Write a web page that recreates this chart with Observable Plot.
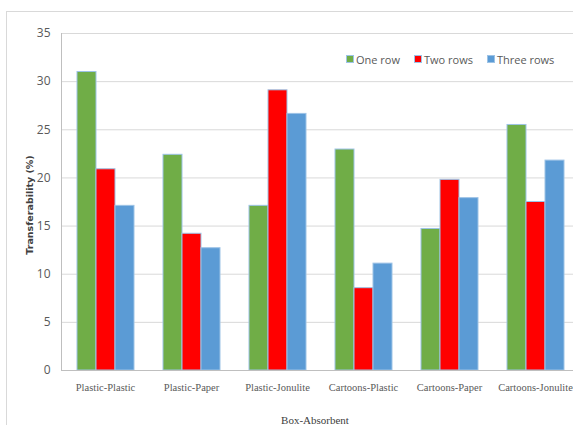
<!DOCTYPE html>
<html>
<head>
<meta charset="utf-8">
<script src="https://cdn.jsdelivr.net/npm/d3@7"></script>
<script src="https://cdn.jsdelivr.net/npm/@observablehq/plot@0.6"></script>
<style>
  body { margin: 0; background: #fff; }
  #wrap { position: relative; width: 573px; height: 425px; overflow: hidden; background: #fff; }
  #border { position: absolute; left: 6px; top: 11px; width: 600px; height: 500px; border-left: 1px solid #d9d9d9; border-top: 1px solid #d9d9d9; }
  .layer { position: absolute; left: 0; top: 0; }
  .ylab { position: absolute; left: 29px; top: 205px; transform: translate(-50%, -50%) rotate(-90deg); font: bold 9.5px "DejaVu Sans", sans-serif; color: #404040; white-space: nowrap; }
  .xlab { position: absolute; left: 315px; top: 420px; transform: translate(-50%, -50%); font: 11px "Liberation Serif", serif; color: #404040; white-space: nowrap; }
  #legend { position: absolute; left: 346px; top: 51px; font: 11px "Open Sans", sans-serif; color: #595959; white-space: nowrap; }
  #legend span.item { display: inline-flex; align-items: center; margin-right: 14px; }
  #legend span.sw { display: inline-block; width: 6px; height: 6px; border: 1px solid #9dc3e6; margin-right: 2px; }
  g[aria-label="y-axis tick label"] text { fill: #595959; }
  g[aria-label="fx-axis tick label"] text { fill: #595959; }
</style>
</head>
<body>
<div id="wrap">
  <div id="border"></div>
  <div id="back" class="layer"></div>
  <div id="front" class="layer"></div>
  <div class="ylab">Transferability (%)</div>
  <div class="xlab">Box-Absorbent</div>
  <div id="legend"></div>
</div>
<script>
const categories = ["Plastic-Plastic", "Plastic-Paper", "Plastic-Jonulite", "Cartoons-Plastic", "Cartoons-Paper", "Cartoons-Jonulite"];
const series = ["One row", "Two rows", "Three rows"];
const colors = ["#70ad47", "#ff0000", "#5b9bd5"];
const oneRow = [31.0, 22.4, 17.1, 22.95, 14.7, 25.5];
const twoRows = [20.9, 14.2, 29.1, 8.55, 19.8, 17.5];
const threeRows = [17.1, 12.7, 26.65, 11.1, 17.9, 21.8];
const yTicks = [0, 5, 10, 15, 20, 25, 30, 35];

const valuesBySeries = [oneRow, twoRows, threeRows];
const data = [];
categories.forEach((c, i) => {
  series.forEach((s, j) => data.push({category: c, series: s, value: valuesBySeries[j][i]}));
});

const common = {
  width: 573,
  height: 425,
  marginTop: 33,
  marginBottom: 55,
  marginLeft: 61,
  marginRight: -5,
  style: {fontFamily: "'Open Sans', sans-serif", background: "transparent"},
  y: {domain: [0, 35], axis: null}
};

const back = Plot.plot({
  ...common,
  marks: [
    Plot.ruleY(yTicks.filter(t => t > 0), {stroke: "#d9d9d9", strokeWidth: 1}),
    Plot.frame({anchor: "left", stroke: "#bfbfbf"}),
    Plot.axisY({ticks: yTicks, tickSize: 0, tickPadding: 11, label: null, fontSize: 12})
  ]
});
document.getElementById("back").appendChild(back);

const front = Plot.plot({
  ...common,
  fx: {domain: categories, paddingInner: 0.327, paddingOuter: 0.1635, axis: null},
  x: {domain: series, padding: 0, axis: null},
  color: {domain: series, range: colors},
  marks: [
    Plot.barY(data, {fx: "category", x: "series", y: "value", fill: "series", stroke: "#9dc3e6", strokeWidth: 1, inset: 0}),
    Plot.axisFx({anchor: "bottom", tickSize: 0, tickPadding: 13, label: null, fontSize: 10.5, fontFamily: "'Liberation Serif', serif"})
  ]
});
document.getElementById("front").appendChild(front);

const base = Plot.plot({
  ...common,
  marks: [Plot.ruleY([0], {stroke: "#bfbfbf"})]
});
const baseDiv = document.createElement("div");
baseDiv.className = "layer";
baseDiv.appendChild(base);
document.getElementById("wrap").insertBefore(baseDiv, document.querySelector(".ylab"));

const legend = document.getElementById("legend");
series.forEach((s, j) => {
  const item = document.createElement("span");
  item.className = "item";
  const sw = document.createElement("span");
  sw.className = "sw";
  sw.style.background = colors[j];
  item.appendChild(sw);
  item.appendChild(document.createTextNode(s));
  legend.appendChild(item);
});
</script>
</body>
</html>
